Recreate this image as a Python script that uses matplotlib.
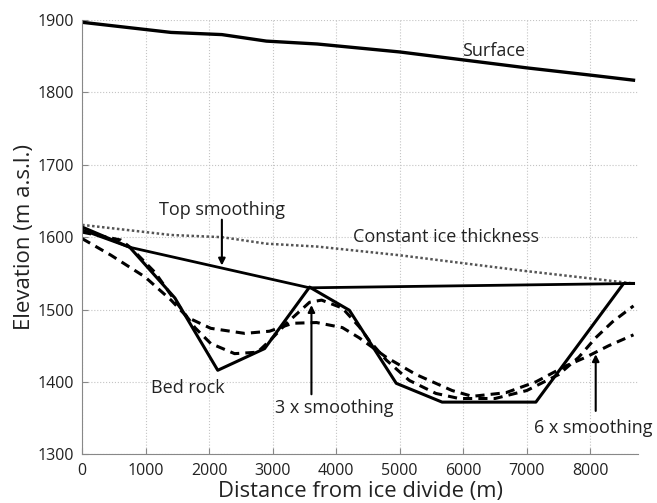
import numpy as np
import matplotlib
matplotlib.use("Agg")
import matplotlib.pyplot as plt

plt.rcParams['font.family'] = ['Open Sans', 'DejaVu Sans']

# values (distance in m, elevation in m a.s.l.)
surf_x = [0, 700, 1400, 2200, 2900, 3700, 5000, 6000, 7000, 8000, 8680]
surf_y = [1897, 1890, 1883, 1880, 1871, 1867, 1856, 1845, 1834, 1824, 1817]

const_x = [0, 700, 1400, 2200, 2900, 3700, 5000, 6000, 7000, 8000, 8680]
const_y = [1617, 1610, 1603, 1600, 1591, 1587, 1575, 1564, 1553, 1543, 1536]

bed_x = [0, 750, 1460, 2135, 2873, 3580, 4207, 4945, 5667, 7143, 8524, 8680]
bed_y = [1614, 1586, 1516, 1416, 1446, 1531, 1499, 1398, 1372, 1372, 1536, 1536]

top_x = [0, 750, 3580, 8680]
top_y = [1610, 1586, 1530, 1536]

s3_x = [0, 610, 770, 1150, 1400, 1775, 2025, 2400, 2760, 2967, 3218, 3580, 3770,
        4097, 4364, 4520, 4790, 5150, 5570, 5934, 6500, 7000, 7500, 7818, 8085, 8350, 8680]
s3_y = [1607, 1596, 1585, 1551, 1520, 1475, 1453, 1439, 1441, 1458, 1481, 1510, 1513,
        1502, 1476, 1457, 1430, 1402, 1384, 1377, 1377, 1388, 1410, 1434, 1461, 1483, 1505]

s6_x = [0, 455, 990, 1400, 1660, 2025, 2560, 2950, 3315, 3690, 4097, 4360, 4788,
        5260, 5825, 6140, 6670, 7143, 7614, 7928, 8290, 8680]
s6_y = [1598, 1575, 1545, 1513, 1489, 1474, 1467, 1470, 1481, 1482, 1475, 1461, 1434,
        1410, 1388, 1380, 1385, 1400, 1422, 1434, 1450, 1465]

fig = plt.figure(figsize=(6.57, 5.03), dpi=100)
ax = fig.add_axes([0.125, 0.097, 0.846, 0.863])

ax.plot(surf_x, surf_y, color='black', lw=2.4)
ax.plot(const_x, const_y, color='#555555', lw=1.8, linestyle=(0, (1, 1)))
ax.plot(s6_x, s6_y, color='black', lw=2.2, linestyle=(0, (3, 2)))
ax.plot(s3_x, s3_y, color='black', lw=2.2, linestyle=(0, (3, 2)))
ax.plot(top_x, top_y, color='black', lw=2.0)
ax.plot(bed_x, bed_y, color='black', lw=2.2)

ax.set_xlim(0, 8750)
ax.set_ylim(1300, 1900)
ax.set_xticks(np.arange(0, 9000, 1000))
ax.set_yticks(np.arange(1300, 2000, 100))
ax.grid(True, linestyle=':', color='#c4c4c4', lw=0.8)
for s in ['top', 'right']:
    ax.spines[s].set_visible(False)
for s in ['left', 'bottom']:
    ax.spines[s].set_color('#888888')
ax.tick_params(direction='in', colors='#888888', labelcolor='#222222', labelsize=11.5, length=4)
ax.tick_params(axis='y', pad=6)
ax.tick_params(axis='x', pad=6)

ax.set_xlabel("Distance from ice divide (m)", fontsize=15.8, labelpad=2, color='#222222')
ax.set_ylabel("Elevation (m a.s.l.)", fontsize=16, labelpad=2, color='#222222')

fs = 13
ax.text(6480, 1858, "Surface", fontsize=fs, ha='center', va='center', color='#222222')
ax.text(5730, 1600, "Constant ice thickness", fontsize=fs, ha='center', va='center', color='#222222')
ax.text(2200, 1638, "Top smoothing", fontsize=fs, ha='center', va='center', color='#222222')
ax.text(1670, 1391, "Bed rock", fontsize=fs, ha='center', va='center', color='#222222')
ax.text(3970, 1364, "3 x smoothing", fontsize=fs, ha='center', va='center', color='#222222')
ax.text(8050, 1336, "6 x smoothing", fontsize=fs, ha='center', va='center', color='#222222')

arrow = dict(arrowstyle='-|>', color='black', lw=1.5, mutation_scale=10)
ax.annotate("", xy=(2200, 1557), xytext=(2200, 1628), arrowprops=arrow)
ax.annotate("", xy=(3610, 1510), xytext=(3610, 1379), arrowprops=arrow)
ax.annotate("", xy=(8085, 1442), xytext=(8085, 1356), arrowprops=arrow)

fig.savefig("out.png", dpi=100)
